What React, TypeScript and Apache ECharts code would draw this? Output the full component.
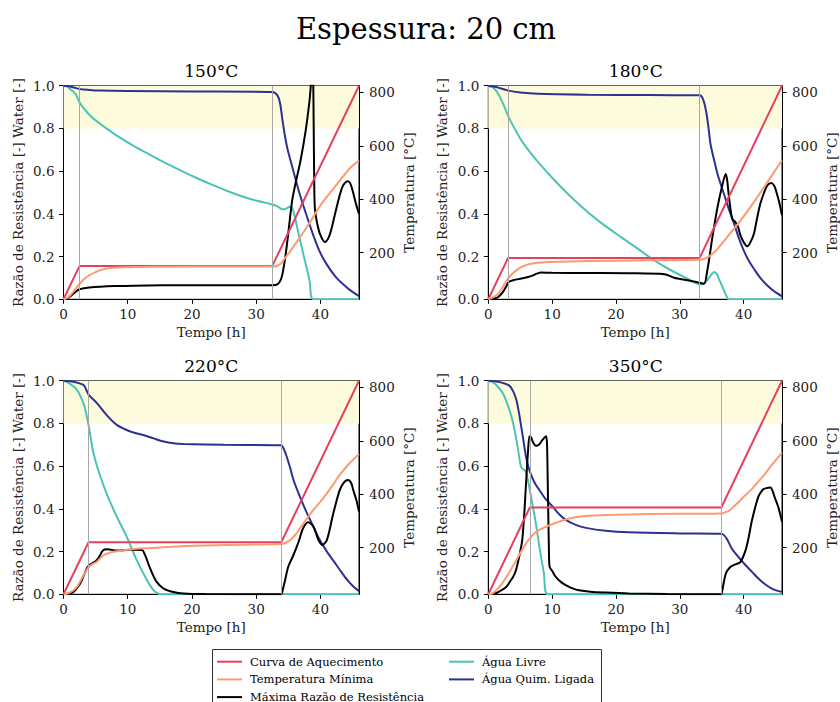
import React, { useEffect, useRef } from "react";
import * as echarts from "echarts";

type P = [number, number][];

// ---------- panel titles & event times ----------
const panelTitles = ["150°C", "180°C", "220°C", "350°C"];
const marks150 = [2.5, 32.5];
const marks180 = [3.1, 33.1];
const marks220 = [3.9, 33.9];
const marks350 = [6.5, 36.5];

const xTicks = [0, 10, 20, 30, 40];
const tempTicks = [200, 400, 600, 800];

// ---------- 150 °C ----------
const heat150: P = [[0, 25], [2.5, 150], [32.5, 150], [46, 825]];
const min150: P = [[0, 25], [0.5, 29], [1, 38], [1.5, 52], [2, 68], [2.6, 85], [3.3, 103], [4.1, 116], [5, 127], [5.7, 134], [7, 141], [8.3, 144], [12, 146], [16, 147], [25, 148], [32.5, 148], [33.2, 150], [33.8, 158], [34.6, 183], [35.3, 205], [36.1, 233], [36.9, 260], [37.7, 289], [38.8, 330], [39.8, 370], [41.1, 412], [42.4, 451], [43.5, 484], [44.5, 514], [45.3, 531], [46, 545]];
const black150: P = [[0, 0], [0.5, 0.003], [1, 0.012], [1.5, 0.025], [2, 0.038], [2.5, 0.047], [3, 0.051], [4, 0.055], [5.7, 0.059], [8, 0.062], [11, 0.064], [20, 0.066], [32.5, 0.066], [33.3, 0.07], [33.8, 0.09], [34.1, 0.12], [34.6, 0.213], [35.1, 0.338], [35.6, 0.463], [36.1, 0.54], [36.9, 0.65], [37.7, 0.79], [38.3, 0.93], [38.5, 1.0], [38.7, 1.07], [38.85, 1.04], [38.95, 0.8], [39.05, 0.5], [39.15, 0.42], [39.5, 0.354], [40, 0.3], [40.7, 0.268], [41.3, 0.291], [41.8, 0.34], [42.4, 0.416], [43.4, 0.525], [44.2, 0.553], [44.6, 0.545], [45, 0.509], [45.5, 0.45], [46, 0.4]];
const teal150: P = [[0, 1], [0.5, 0.997], [1, 0.985], [1.56, 0.972], [2, 0.955], [2.6, 0.917], [3.6, 0.878], [4.5, 0.85], [5.7, 0.822], [7, 0.793], [8.3, 0.766], [10.9, 0.718], [13, 0.684], [15, 0.652], [17.5, 0.614], [20.2, 0.575], [23, 0.538], [25.4, 0.508], [28, 0.48], [30.1, 0.461], [32.1, 0.447], [33.3, 0.435], [34.1, 0.421], [34.6, 0.424], [35.1, 0.432], [35.4, 0.435], [35.9, 0.4], [36.5, 0.32], [37.2, 0.229], [38.3, 0.089], [38.9, 0], [46, 0]];
const navy150: P = [[0, 1], [0.8, 0.997], [1.6, 0.992], [2.6, 0.984], [4, 0.98], [5.7, 0.977], [10, 0.975], [20, 0.973], [32.5, 0.971], [33.3, 0.955], [33.7, 0.92], [34.1, 0.836], [34.5, 0.76], [34.9, 0.7], [35.7, 0.61], [36.7, 0.5], [37.7, 0.405], [38.8, 0.307], [39.8, 0.229], [40.9, 0.167], [42.4, 0.104], [44, 0.058], [45, 0.035], [46, 0.015]];

// ---------- 180 °C ----------
const heat180: P = [[0, 25], [3.1, 180], [33.1, 180], [46, 825]];
const min180: P = [[0, 25], [0.8, 33], [1.56, 46], [2.3, 72], [3.2, 106], [4, 126], [5.2, 146], [6.5, 157], [7.8, 162], [10, 165], [15.6, 168], [25, 171], [33.1, 173], [33.8, 176], [34.3, 181], [35.1, 196], [35.9, 214], [37.4, 258], [39.5, 320], [41.6, 389], [43.7, 463], [45, 510], [46, 545]];
const black180: P = [[0, 0], [0.8, 0.003], [1.56, 0.011], [2.3, 0.035], [2.8, 0.06], [3.2, 0.081], [4, 0.09], [5.2, 0.097], [6.2, 0.104], [7, 0.112], [7.6, 0.12], [8.3, 0.125], [10, 0.124], [15.6, 0.123], [22, 0.122], [27.6, 0.117], [29.1, 0.101], [31.2, 0.089], [33.1, 0.078], [33.8, 0.073], [34.3, 0.135], [34.7, 0.21], [35.1, 0.291], [35.9, 0.431], [36.7, 0.54], [37.2, 0.587], [37.4, 0.56], [37.7, 0.478], [38.2, 0.377], [38.7, 0.361], [39.1, 0.34], [39.5, 0.299], [40.1, 0.262], [40.6, 0.248], [41.1, 0.27], [41.6, 0.307], [42.1, 0.38], [42.6, 0.447], [43.2, 0.5], [43.7, 0.533], [44.3, 0.544], [44.8, 0.53], [45.2, 0.494], [45.6, 0.45], [46, 0.393]];
const teal180: P = [[0, 1], [0.8, 0.99], [1.56, 0.961], [2.34, 0.914], [3.2, 0.852], [4.2, 0.795], [5.2, 0.743], [6.5, 0.69], [7.8, 0.642], [10.4, 0.556], [13, 0.478], [15.6, 0.408], [18.2, 0.346], [20.8, 0.291], [23.4, 0.237], [26, 0.182], [28.6, 0.136], [31.2, 0.097], [33.3, 0.07], [33.8, 0.075], [34.3, 0.089], [34.9, 0.115], [35.4, 0.128], [35.8, 0.118], [36.1, 0.097], [36.9, 0.042], [37.3, 0.015], [37.7, 0], [46, 0]];
const navy180: P = [[0, 1], [1, 0.995], [2, 0.987], [3.1, 0.977], [5, 0.968], [7.8, 0.962], [15.6, 0.958], [25, 0.956], [33.1, 0.955], [33.6, 0.94], [34.1, 0.883], [34.5, 0.8], [34.8, 0.727], [35.3, 0.66], [35.9, 0.587], [36.9, 0.494], [37.7, 0.42], [38.5, 0.354], [39.2, 0.29], [40, 0.229], [40.8, 0.18], [41.6, 0.143], [42.6, 0.1], [43.7, 0.065], [44.8, 0.037], [46, 0.014]];

// ---------- 220 °C ----------
const heat220: P = [[0, 25], [3.9, 220], [33.9, 220], [46, 825]];
const min220: P = [[0, 25], [0.8, 30], [1.56, 40], [2.3, 60], [3.1, 96], [3.9, 126], [4.5, 138], [5.2, 147], [6.2, 171], [7, 179], [7.8, 184], [10.4, 193], [14.5, 199], [18.7, 206], [25, 210], [33.9, 213], [34.6, 218], [35.3, 228], [36.1, 248], [36.8, 272], [37.8, 305], [38.9, 341], [40, 372], [41, 403], [42, 437], [43, 472], [44.5, 515], [46, 550]];
const black220: P = [[0, 0], [0.8, 0.003], [1.56, 0.011], [2.1, 0.03], [2.6, 0.05], [3.1, 0.085], [3.6, 0.12], [4.0, 0.135], [4.4, 0.144], [5.0, 0.155], [5.4, 0.168], [5.7, 0.183], [6.0, 0.2], [6.4, 0.21], [6.8, 0.211], [8.3, 0.205], [10.4, 0.208], [12.2, 0.207], [12.7, 0.183], [13.5, 0.12], [14.5, 0.058], [15.6, 0.027], [17.1, 0.011], [18.7, 0.004], [22, 0.001], [33.9, 0], [34, 0.005], [34.5, 0.067], [35, 0.13], [35.8, 0.184], [36.6, 0.246], [37.3, 0.309], [38.1, 0.337], [38.9, 0.317], [39.7, 0.254], [40.3, 0.231], [41, 0.254], [42, 0.379], [43, 0.488], [43.7, 0.525], [44.3, 0.535], [44.8, 0.52], [45.1, 0.488], [45.6, 0.44], [46, 0.387]];
const teal220: P = [[0, 1], [1, 0.985], [2.07, 0.958], [3.1, 0.895], [3.5, 0.85], [3.94, 0.786], [4.3, 0.72], [4.67, 0.66], [5.4, 0.582], [6.7, 0.473], [8.3, 0.363], [9.85, 0.269], [11.4, 0.16], [13, 0.066], [14, 0.019], [14.6, 0.005], [15.2, 0], [46, 0]];
const navy220: P = [[0, 1], [1.5, 0.995], [3.1, 0.98], [3.5, 0.96], [3.94, 0.934], [5.2, 0.895], [6.7, 0.84], [8.3, 0.793], [10.4, 0.762], [12.4, 0.746], [14, 0.73], [15.6, 0.715], [17.1, 0.707], [18.7, 0.704], [25, 0.7], [33.9, 0.698], [34.3, 0.68], [34.75, 0.644], [35.3, 0.59], [35.8, 0.535], [36.8, 0.457], [37.6, 0.4], [38.4, 0.348], [39.9, 0.254], [41, 0.2], [42, 0.158], [43, 0.115], [44.1, 0.07], [45, 0.04], [46, 0.015]];

// ---------- 350 °C ----------
const heat350: P = [[0, 25], [6.5, 350], [36.5, 350], [46, 825]];
const min350: P = [[0, 25], [0.6, 28], [1.25, 40], [2, 60], [2.8, 89], [3.6, 120], [4.4, 153], [5.1, 183], [5.9, 215], [6.7, 240], [7.5, 259], [8.3, 270], [9.05, 278], [10.6, 293], [12.7, 309], [15.3, 318], [18.4, 322], [25, 326], [36.5, 328], [37.2, 333], [37.7, 338], [38.7, 359], [40.3, 397], [41.3, 420], [42.3, 447], [43.4, 478], [44.4, 510], [45.2, 532], [46, 556]];
const black350: P = [[0, 0], [0.6, 0.002], [1.25, 0.006], [2, 0.018], [2.8, 0.034], [3.4, 0.06], [3.85, 0.08], [4.3, 0.11], [4.6, 0.144], [5.0, 0.2], [5.3, 0.25], [5.5, 0.32], [5.7, 0.41], [6.0, 0.566], [6.2, 0.66], [6.45, 0.74], [6.7, 0.735], [6.96, 0.715], [7.3, 0.698], [7.6, 0.696], [8.0, 0.703], [8.3, 0.715], [8.7, 0.73], [9.05, 0.74], [9.2, 0.7], [9.35, 0.45], [9.5, 0.2], [9.6, 0.128], [10, 0.11], [10.6, 0.08], [11.4, 0.057], [12.2, 0.042], [13.2, 0.028], [14.2, 0.019], [16, 0.012], [18.4, 0.008], [22, 0.004], [28, 0.001], [36.5, 0], [36.6, 0.01], [37.2, 0.097], [37.9, 0.128], [38.7, 0.14], [39.5, 0.152], [40.3, 0.207], [40.8, 0.27], [41.3, 0.347], [42.3, 0.457], [43, 0.49], [43.4, 0.496], [44.2, 0.5], [44.5, 0.485], [44.9, 0.45], [45.4, 0.41], [46, 0.34]];
const teal350: P = [[0, 1], [0.6, 0.995], [1.25, 0.98], [2.3, 0.94], [3.3, 0.864], [3.9, 0.8], [4.4, 0.723], [4.8, 0.65], [5.15, 0.595], [5.5, 0.585], [5.9, 0.574], [6.3, 0.52], [6.7, 0.457], [7.4, 0.34], [8, 0.222], [8.7, 0.1], [9.3, 0], [46, 0]];
const navy350: P = [[0, 1], [1, 0.997], [2.2, 0.99], [3.3, 0.977], [3.9, 0.95], [4.4, 0.91], [4.8, 0.85], [5.15, 0.786], [5.5, 0.72], [5.9, 0.645], [6.3, 0.595], [6.7, 0.559], [7.3, 0.52], [8, 0.488], [9, 0.445], [10.1, 0.41], [11.1, 0.375], [12.2, 0.347], [13.7, 0.325], [15.3, 0.311], [18.4, 0.297], [22, 0.29], [30, 0.285], [36.5, 0.283], [38.3, 0.207], [40.3, 0.136], [41.3, 0.105], [42.3, 0.074], [43.3, 0.048], [44.4, 0.027], [45.2, 0.017], [46, 0.011]];

const NAMES = {
  heat: "Curva de Aquecimento",
  min: "Temperatura Mínima",
  black: "Máxima Razão de Resistência",
  teal: "Água Livre",
  navy: "Água Quim. Ligada",
};
const COLORS = {
  heat: "#e5405e",
  min: "#fc9b70",
  black: "#000000",
  teal: "#4cc3b6",
  navy: "#2e3192",
};

const panels = [
  { heat: heat150, min: min150, black: black150, teal: teal150, navy: navy150, marks: marks150 },
  { heat: heat180, min: min180, black: black180, teal: teal180, navy: navy180, marks: marks180 },
  { heat: heat220, min: min220, black: black220, teal: teal220, navy: navy220, marks: marks220 },
  { heat: heat350, min: min350, black: black350, teal: teal350, navy: navy350, marks: marks350 },
];

const FONT = '"DejaVu Serif", serif';
const GRIDS = [
  { left: 63.5, top: 85.7, width: 295.5, height: 213.6 },
  { left: 488.3, top: 85.7, width: 295, height: 213.6 },
  { left: 63.5, top: 380.7, width: 295.5, height: 213.6 },
  { left: 488.3, top: 380.7, width: 295, height: 213.6 },
];

function buildOption() {
  const grid: any[] = [];
  const xAxis: any[] = [];
  const yAxis: any[] = [];
  const series: any[] = [];
  const graphic: any[] = [];
  const axisText = { fontFamily: FONT, fontSize: 13.5, color: "#222" };

  graphic.push({
    type: "text",
    x: 426,
    y: 29.3,
    style: { text: "Espessura: 20 cm", font: `29px ${FONT}`, fill: "#000", textAlign: "center", textVerticalAlign: "middle", align: "center", verticalAlign: "middle" },
  });

  panels.forEach((p, i) => {
    const g = GRIDS[i];
    grid.push({ ...g, show: true, borderColor: "#000", borderWidth: 1, backgroundColor: "transparent" });
    graphic.push({
      type: "text",
      x: g.left + g.width / 2,
      y: g.top - 15,
      style: { text: panelTitles[i], font: `17px ${FONT}`, fill: "#000", textAlign: "center", textVerticalAlign: "middle", align: "center", verticalAlign: "middle" },
    });
    xAxis.push({
      type: "value",
      gridIndex: i,
      min: 0,
      max: 46,
      name: "Tempo [h]",
      nameLocation: "middle",
      nameGap: 26,
      nameTextStyle: axisText,
      axisLine: { show: true, onZero: false, lineStyle: { color: "#000", width: 1 } },
      axisTick: { show: true, length: 4.5, lineStyle: { color: "#000", width: 1 }, customValues: xTicks },
      axisLabel: { ...axisText, margin: 8, customValues: xTicks },
      splitLine: { show: false },
    });
    yAxis.push({
      type: "value",
      gridIndex: i,
      position: "left",
      min: 0,
      max: 1,
      interval: 0.2,
      name: "Razão de Resistência [-] Water [-]",
      nameLocation: "middle",
      nameGap: 39,
      nameTextStyle: axisText,
      axisLine: { show: true, onZero: false, lineStyle: { color: "#000", width: 1 } },
      axisTick: { show: true, length: 4.5, lineStyle: { color: "#000", width: 1 } },
      axisLabel: { ...axisText, margin: 9, formatter: (v: number) => v.toFixed(1) },
      splitLine: { show: false },
    });
    yAxis.push({
      type: "value",
      gridIndex: i,
      position: "right",
      min: 25,
      max: 825,
      name: "Temperatura [°C]",
      nameLocation: "middle",
      nameGap: 43,
      nameTextStyle: axisText,
      axisLine: { show: true, onZero: false, lineStyle: { color: "#000", width: 1 } },
      axisTick: { show: true, length: 4.5, lineStyle: { color: "#000", width: 1 }, customValues: tempTicks },
      axisLabel: { ...axisText, margin: 10, customValues: tempTicks },
      splitLine: { show: false },
    });

    const mk = (key: keyof typeof NAMES, data: P, right: boolean, smooth: boolean, extra: any = {}) => ({
      type: "line",
      name: NAMES[key],
      xAxisIndex: i,
      yAxisIndex: right ? 2 * i + 1 : 2 * i,
      data,
      showSymbol: false,
      symbol: "none",
      smooth: smooth ? 0.3 : false,
      clip: true,
      color: COLORS[key],
      itemStyle: { color: COLORS[key] },
      lineStyle: { color: COLORS[key], width: 2 },
      emphasis: { disabled: true },
      silent: true,
      ...extra,
    });

    series.push(
      mk("teal", p.teal, false, true, {
        markArea: {
          silent: true,
          itemStyle: { color: "#fcfcdc" },
          data: [[{ yAxis: 0.8 }, { yAxis: 1 }]],
        },
        markLine: {
          silent: true,
          symbol: ["none", "none"],
          label: { show: false },
          lineStyle: { color: "#a8a8a8", width: 1, type: "solid" },
          data: p.marks.map((m) => ({ xAxis: m })),
        },
      })
    );
    series.push(mk("navy", p.navy, false, true));
    series.push(mk("black", p.black, false, true));
    series.push(mk("heat", p.heat, true, false));
    series.push(mk("min", p.min, true, true));
  });

  graphic.push({
    type: "rect",
    z: 0,
    shape: { x: 212.5, y: 649.5, width: 389, height: 60 },
    style: { fill: "#ffffff", stroke: "#333", lineWidth: 1 },
  });

  const legendBase = {
    orient: "vertical",
    top: 654.7,
    height: 70,
    padding: 0,
    itemGap: 3.7,
    itemWidth: 25,
    itemHeight: 2,
    icon: "rect",
    selectedMode: false,
    textStyle: { fontFamily: FONT, fontSize: 11.5, color: "#000", lineHeight: 14, padding: [0, 0, 0, 3] },
  };

  return {
    animation: false,
    backgroundColor: "#ffffff",
    grid,
    xAxis,
    yAxis,
    series,
    graphic,
    legend: [
      { ...legendBase, left: 217, data: [NAMES.heat, NAMES.min, NAMES.black] },
      { ...legendBase, left: 449, data: [NAMES.teal, NAMES.navy] },
    ],
  };
}

export default function App() {
  const ref = useRef<HTMLDivElement>(null);
  useEffect(() => {
    if (!ref.current) return;
    const chart = echarts.init(ref.current, null, { renderer: "svg" });
    chart.setOption(buildOption() as any);
    return () => chart.dispose();
  }, []);
  return (
    <div
      ref={ref}
      style={{ position: "absolute", left: 0, top: 0, width: 840, height: 702, background: "#fff" }}
    />
  );
}
